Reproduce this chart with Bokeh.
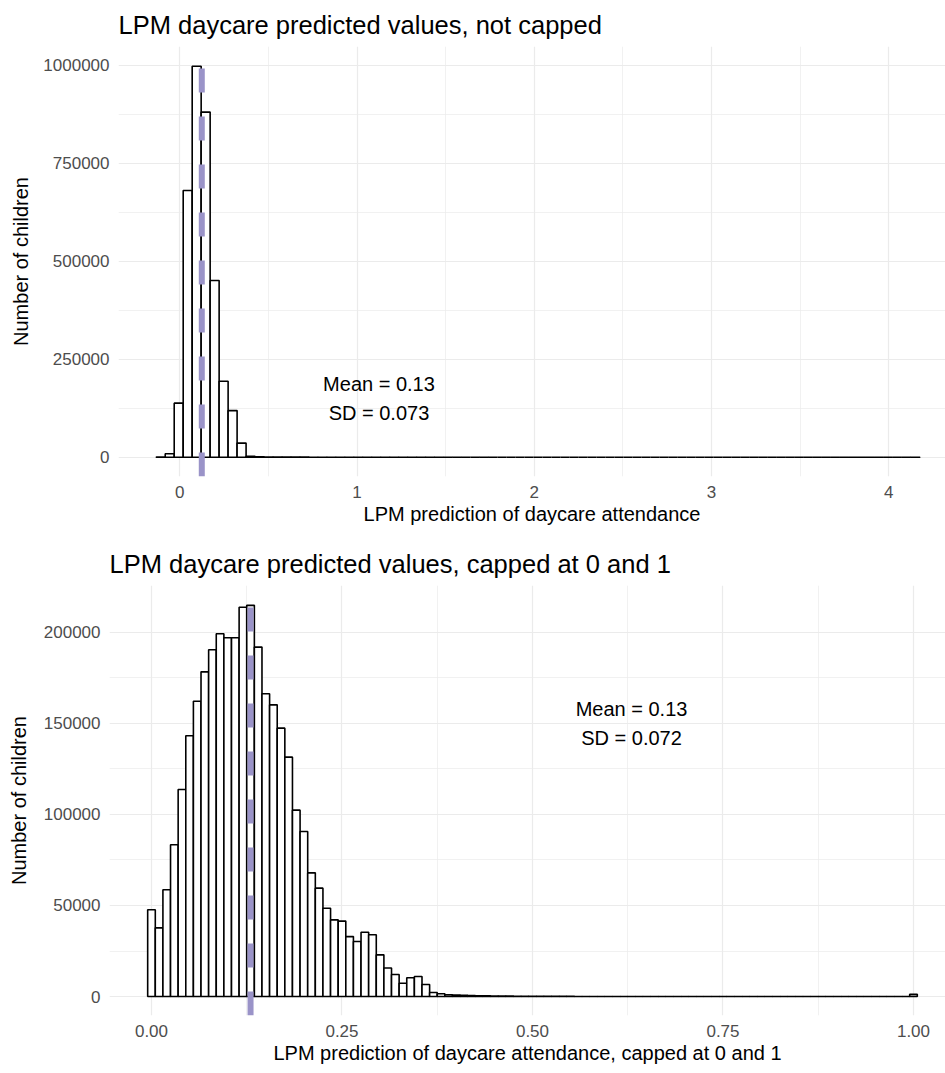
import numpy as np
from bokeh.plotting import figure
from bokeh.layouts import column, row
from bokeh.models import Range1d, FixedTicker, NumeralTickFormatter
from bokeh.core.properties import value
from bokeh.embed import file_html
from bokeh.resources import INLINE

# ---------------- data ----------------
top_title = "LPM daycare predicted values, not capped"
top_xlabel = "LPM prediction of daycare attendance"
top_bin_start = -0.133
top_bin_width = 0.0507
top_counts = [
    300, 8700, 138000, 681000, 998000, 881000, 451000, 194000, 119000, 36000,
    2500, 1000, 400, 200, 120, 80, 50, 35, 25, 18,
    12, 9, 7, 5, 4, 3, 3, 2, 2, 1,
    1, 1, 0, 1, 0, 0, 1, 0, 0, 0,
    0, 0, 0, 0, 0, 0, 0, 0, 0, 0,
    0, 0, 0, 0, 0, 0, 0, 0, 0, 0,
    0, 0, 0, 0, 0, 0, 0, 0, 0, 0,
    0, 0, 0, 0, 0, 0, 0, 0, 0, 0,
    0, 0, 0, 0, 1,
]
top_mean = 0.124
top_label = "Mean = 0.13\nSD = 0.073"
top_label_pos = (1.124, 150000)
top_xticks = [0, 1, 2, 3, 4]
top_yticks = [0, 250000, 500000, 750000, 1000000]

bot_title = "LPM daycare predicted values, capped at 0 and 1"
bot_xlabel = "LPM prediction of daycare attendance, capped at 0 and 1"
bot_bin_start = -0.005
bot_bin_width = 0.01
bot_counts = [
    47600, 37700, 58600, 83300, 113600, 143100, 162100, 178200, 190300, 199100,
    196900, 196900, 213700, 214700, 191800, 166200, 160100, 147300, 131400, 102300,
    90600, 67900, 59500, 48500, 42100, 41400, 32900, 30200, 35300, 33900,
    22900, 15700, 12100, 7300, 10300, 11000, 6600, 2200, 1500, 1000,
    800, 650, 520, 420, 350, 300, 250, 210, 180, 150,
    130, 115, 100, 90, 80, 70, 62, 55, 50, 45,
    40, 36, 32, 29, 26, 24, 22, 20, 18, 16,
    15, 14, 13, 12, 11, 10, 9, 9, 8, 8,
    7, 7, 6, 6, 5, 5, 5, 4, 4, 4,
    3, 3, 3, 3, 2, 2, 2, 2, 2, 2,
    1200,
]
bot_mean = 0.130
bot_label = "Mean = 0.13\nSD = 0.072"
bot_label_pos = (0.63, 150000)
bot_xticks = [0, 0.25, 0.5, 0.75, 1.0]
bot_yticks = [0, 50000, 100000, 150000, 200000]

y_axis_label = "Number of children"

FONT = "Liberation Sans"
GRID = "#EBEBEB"
MEAN_COLOR = "#9A93C8"
WIDTH = 945


def make_panel(title, xlabel, counts, bin_start, bin_width, mean, label, label_pos,
               xticks, yticks, xfmt, x_range, y_range, height, borders, ylab_standoff):
    bl, bt, bb = borders
    p = figure(width=WIDTH, height=height, output_backend="svg", toolbar_location=None,
               x_range=Range1d(*x_range), y_range=Range1d(*y_range),
               min_border_left=bl, min_border_right=0, min_border_top=bt,
               min_border_bottom=bb, title=title)
    p.outline_line_color = None
    p.background_fill_color = "white"
    p.border_fill_color = "white"

    p.title.text_font = FONT
    p.title.text_font_size = "25.5px"
    p.title.text_font_style = "normal"
    p.title.text_color = "black"
    p.title.align = "left"
    p.title.standoff = 15

    counts = np.array(counts, dtype=float)
    n = len(counts)
    left = bin_start + bin_width * np.arange(n)
    right = left + bin_width
    p.quad(left=left, right=right, bottom=np.zeros(n), top=counts,
           fill_color="white", line_color="black", line_width=1.6)

    # mean line, drawn bottom to top like ggplot
    p.segment(x0=[mean], y0=[y_range[0]], x1=[mean], y1=[y_range[1]],
              line_color=MEAN_COLOR, line_width=6, line_dash="24 24")

    p.text(x=[label_pos[0]], y=[label_pos[1]], text=[label],
           text_font=value(FONT), text_font_size="20px", text_color="black",
           text_align="center", text_baseline="middle", text_line_height=1.3)

    xminor = [(a + b) / 2 for a, b in zip(xticks[:-1], xticks[1:])]
    yminor = [(a + b) / 2 for a, b in zip(yticks[:-1], yticks[1:])]
    p.xaxis.ticker = FixedTicker(ticks=xticks, minor_ticks=xminor)
    p.yaxis.ticker = FixedTicker(ticks=yticks, minor_ticks=yminor)
    p.xaxis.formatter = NumeralTickFormatter(format=xfmt)
    p.yaxis.formatter = NumeralTickFormatter(format="0")

    for ax in (p.xaxis, p.yaxis):
        ax.axis_line_color = None
        ax.major_tick_line_color = None
        ax.minor_tick_line_color = None
        ax.major_tick_out = 0
        ax.major_tick_in = 0
        ax.minor_tick_out = 0
        ax.major_label_text_font = FONT
        ax.major_label_text_font_size = "17px"
        ax.major_label_text_color = "#4D4D4D"
        ax.axis_label_text_font = FONT
        ax.axis_label_text_font_size = "20px"
        ax.axis_label_text_font_style = "normal"
        ax.axis_label_text_color = "black"

    p.xaxis.axis_label = xlabel
    p.yaxis.axis_label = y_axis_label
    p.xaxis.major_label_standoff = 9
    p.xaxis.axis_label_standoff = 2
    p.yaxis.major_label_standoff = 9
    p.yaxis.axis_label_standoff = ylab_standoff

    for g in (p.xgrid, p.ygrid):
        g.grid_line_color = GRID
        g.grid_line_width = 1.2
        g.minor_grid_line_color = GRID
        g.minor_grid_line_width = 0.7
    return p


p1 = make_panel(top_title, top_xlabel, top_counts, top_bin_start, top_bin_width,
                top_mean, top_label, top_label_pos, top_xticks, top_yticks, "0",
                (-0.346, 4.321), (-49300, 1048500), 534, (118, 46, 58), 8)
p2 = make_panel(bot_title, bot_xlabel, bot_counts, bot_bin_start, bot_bin_width,
                bot_mean, bot_label, bot_label_pos, bot_xticks, bot_yticks, "0.00",
                (-0.0551, 1.042), (-10400, 225600), 538, (109, 51, 57), 11)

layout = column(row(p1), row(p2), spacing=0)
open("out.html", "w").write(file_html(layout, INLINE))
